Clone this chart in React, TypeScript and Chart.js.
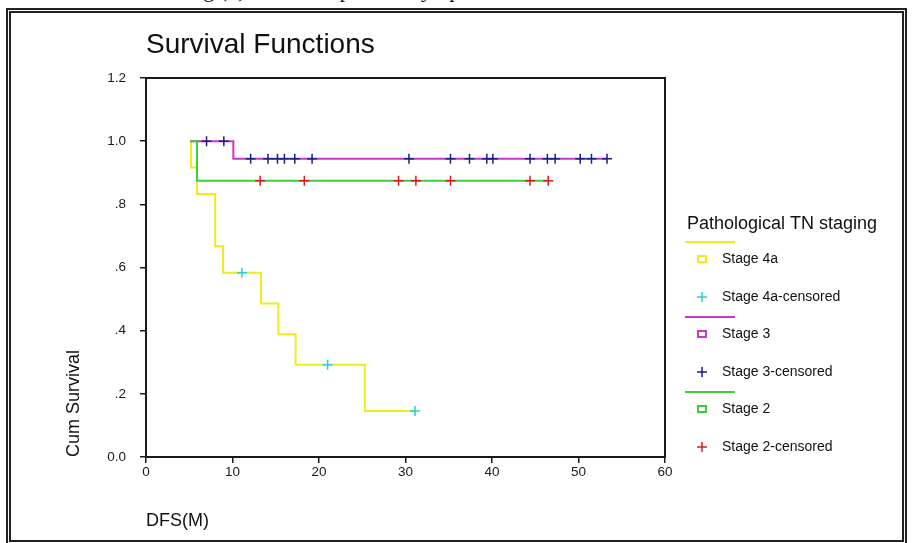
import React, { useEffect, useRef } from 'react';
import { Chart, registerables } from 'chart.js';

Chart.register(...registerables);

// ---- data ----
const chartTitle = 'Survival Functions';
const captionText = 'Fig.(5): Effect of positive lymph node on DFS';
const xAxisTitle = 'DFS(M)';
const yAxisTitle = 'Cum Survival';
const legendTitle = 'Pathological TN staging';
const yTickLabels = ['0.0', '.2', '.4', '.6', '.8', '1.0', '1.2'];

const groupNames = ['Stage 4a', 'Stage 3', 'Stage 2'];

const stage4aTimes = [5.1, 5.2, 5.9, 8.0, 8.9, 13.3, 15.3, 17.3, 25.3, 31.1];
const stage4aSurvival = [1.0, 0.917, 0.833, 0.667, 0.583, 0.486, 0.389, 0.292, 0.146, 0.146];
const stage4aCensoredTimes = [11.1, 21.0, 31.1];
const stage4aCensoredSurvival = [0.583, 0.292, 0.146];

const stage3Times = [5.1, 10.1, 53.3];
const stage3Survival = [1.0, 0.944, 0.944];
const stage3CensoredTimes = [7.0, 9.0, 12.1, 14.1, 15.2, 16.0, 17.2, 19.2, 30.4, 35.2, 37.4, 39.4, 40.1, 44.4, 46.4, 47.3, 50.2, 51.5, 53.3];
const stage3CensoredSurvival = [1.0, 1.0, 0.944, 0.944, 0.944, 0.944, 0.944, 0.944, 0.944, 0.944, 0.944, 0.944, 0.944, 0.944, 0.944, 0.944, 0.944, 0.944, 0.944];

const stage2Times = [5.1, 5.9, 46.5];
const stage2Survival = [1.0, 0.875, 0.875];
const stage2CensoredTimes = [13.2, 18.3, 29.2, 31.2, 35.2, 44.4, 46.5];
const stage2CensoredSurvival = [0.875, 0.875, 0.875, 0.875, 0.875, 0.875, 0.875];

// ---- styles ----
const lineColors = ['#f0ec1c', '#c838c8', '#3ccf3c'];
const censorColors = ['#2cd2d2', '#1c1c8a', '#d02020'];
const FONT = '"Liberation Sans", Arial, Helvetica, sans-serif';

const toPoints = (xs: number[], ys: number[]) => xs.map((x, i) => ({ x, y: ys[i] }));

const framePlugin = {
  id: 'plotFrame',
  afterDatasetsDraw(chart: any) {
    const { ctx, chartArea: a } = chart;
    ctx.save();
    ctx.strokeStyle = '#1a1a1a';
    ctx.lineWidth = 2;
    ctx.strokeRect(a.left, a.top, a.right - a.left, a.bottom - a.top);
    ctx.restore();
  },
};

const legendPlugin = {
  id: 'kmLegend',
  afterDraw(chart: any) {
    const { ctx, chartArea: a } = chart;
    const x0 = a.right + 20;
    const textX = x0 + 37;
    ctx.save();
    ctx.textBaseline = 'middle';
    ctx.textAlign = 'left';
    ctx.fillStyle = '#111';
    ctx.font = `18px ${FONT}`;
    ctx.fillText(legendTitle, x0 + 2, 224);
    const ds = chart.data.datasets;
    for (let g = 0; g < 3; g++) {
      const lineDs = ds[g * 2];
      const cenDs = ds[g * 2 + 1];
      const yLine = 242 + g * 75;
      ctx.strokeStyle = lineDs.borderColor;
      ctx.lineWidth = 2;
      ctx.beginPath();
      ctx.moveTo(x0, yLine);
      ctx.lineTo(x0 + 50, yLine);
      ctx.stroke();
      const ySq = yLine + 17;
      ctx.lineWidth = 2;
      ctx.strokeRect(x0 + 13, ySq - 3, 8, 6);
      ctx.fillStyle = '#111';
      ctx.font = `14px ${FONT}`;
      ctx.fillText(lineDs.label, textX, ySq);
      const yC = yLine + 55;
      ctx.strokeStyle = cenDs.borderColor;
      ctx.lineWidth = 1.5;
      ctx.beginPath();
      ctx.moveTo(x0 + 17, yC - 5);
      ctx.lineTo(x0 + 17, yC + 5);
      ctx.moveTo(x0 + 12, yC);
      ctx.lineTo(x0 + 22, yC);
      ctx.stroke();
      ctx.fillText(cenDs.label, textX, yC);
    }
    ctx.restore();
  },
};

function SurvivalChart() {
  const ref = useRef<HTMLCanvasElement>(null);
  useEffect(() => {
    if (!ref.current) return;
    const lines = [
      [stage4aTimes, stage4aSurvival],
      [stage3Times, stage3Survival],
      [stage2Times, stage2Survival],
    ];
    const cens = [
      [stage4aCensoredTimes, stage4aCensoredSurvival],
      [stage3CensoredTimes, stage3CensoredSurvival],
      [stage2CensoredTimes, stage2CensoredSurvival],
    ];
    const lineOrder = [3, 2, 1];
    const datasets: any[] = [];
    for (let g = 0; g < 3; g++) {
      datasets.push({
        label: groupNames[g],
        data: toPoints(lines[g][0], lines[g][1]),
        stepped: 'before',
        borderColor: lineColors[g],
        backgroundColor: lineColors[g],
        borderWidth: 2,
        pointRadius: 0,
        fill: false,
        order: lineOrder[g],
      });
      datasets.push({
        label: groupNames[g] + '-censored',
        data: toPoints(cens[g][0], cens[g][1]),
        showLine: false,
        pointStyle: 'cross',
        pointRadius: 5,
        pointBorderWidth: 1.5,
        borderColor: censorColors[g],
        backgroundColor: censorColors[g],
        order: 0,
      });
    }
    const chart = new Chart(ref.current, {
      type: 'line',
      data: { datasets },
      options: {
        responsive: false,
        animation: false,
        events: [],
        layout: { padding: { left: 0, top: 0, right: 248, bottom: 0 } },
        plugins: {
          legend: { display: false },
          tooltip: { enabled: false },
          title: {
            display: true,
            text: chartTitle,
            align: 'start',
            fullSize: false,
            color: '#111',
            font: { family: FONT, size: 28, weight: 'normal' },
            padding: { top: 28, bottom: 16.4 },
          },
        },
        scales: {
          x: {
            type: 'linear',
            min: 0,
            max: 60,
            border: { display: false },
            grid: { drawOnChartArea: false, drawTicks: true, tickLength: 6, color: '#1a1a1a', lineWidth: 1.5 },
            ticks: { stepSize: 10, color: '#1a1a1a', padding: 1, maxRotation: 0, font: { family: FONT, size: 13.5 } },
            title: {
              display: true,
              text: xAxisTitle,
              align: 'start',
              color: '#111',
              font: { family: FONT, size: 18 },
              padding: { top: 0, bottom: 11 },
            },
            afterFit(s: any) {
              s.height = 86;
            },
          },
          y: {
            type: 'linear',
            min: 0,
            max: 1.2,
            border: { display: false },
            grid: { drawOnChartArea: false, drawTicks: true, tickLength: 6, color: '#1a1a1a', lineWidth: 1.5 },
            ticks: {
              stepSize: 0.2,
              color: '#1a1a1a',
              padding: 14,
              font: { family: FONT, size: 13.5 },
              callback: (_v: any, i: number) => yTickLabels[i],
            },
            title: {
              display: true,
              text: yAxisTitle,
              align: 'start',
              color: '#111',
              font: { family: FONT, size: 18 },
              padding: { top: 63, bottom: 0 },
            },
            afterFit(s: any) {
              s.width = 146;
            },
          },
        },
      } as any,
      plugins: [framePlugin, legendPlugin],
    });
    return () => chart.destroy();
  }, []);
  return <canvas ref={ref} width={913} height={543} style={{ position: 'absolute', left: 0, top: 0, width: 913, height: 543 }} />;
}

export default function App() {
  return (
    <div style={{ position: 'fixed', left: 0, top: 0, width: 913, height: 543, overflow: 'hidden', background: '#fff' }}>
      <div
        style={{
          position: 'absolute',
          left: 185,
          top: -21,
          whiteSpace: 'nowrap',
          fontFamily: '"Liberation Serif", "Times New Roman", serif',
          fontSize: 22,
          lineHeight: '22px',
          color: '#111',
        }}
      >
        {captionText}
      </div>
      <div
        style={{
          position: 'absolute',
          left: 6,
          top: 8,
          width: 901,
          height: 537,
          boxSizing: 'border-box',
          border: '5px double #222',
          background: '#fff',
        }}
      />
      <SurvivalChart />
    </div>
  );
}
